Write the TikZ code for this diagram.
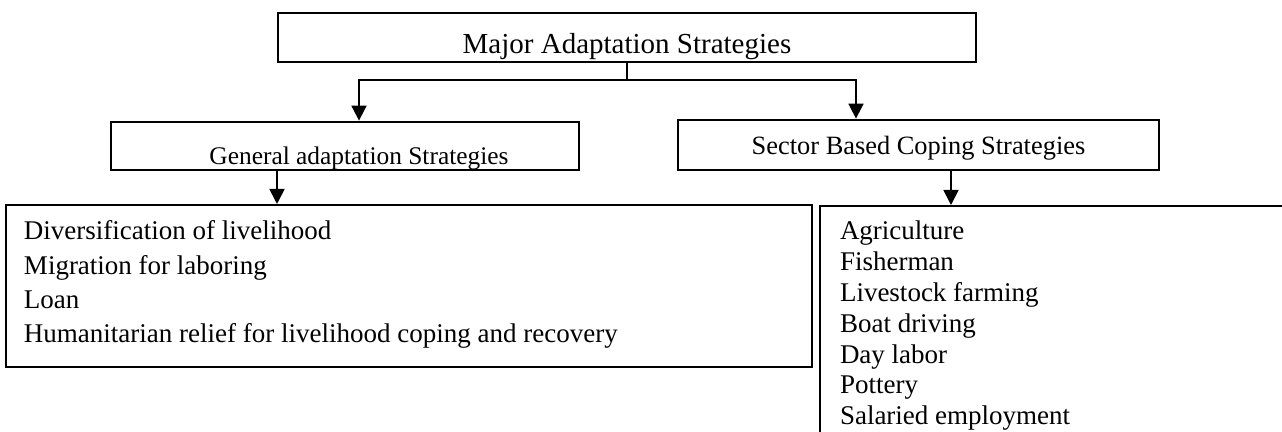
\documentclass[tikz,border=0pt]{standalone}
\usepackage{graphicx}
\usepackage{fontspec}
\setmainfont{Liberation Serif}
\usetikzlibrary{arrows.meta}
\begin{document}
\begin{tikzpicture}[x=0.5pt,y=-0.5pt,
  box/.style={draw,line width=1.4pt,inner sep=0pt,anchor=center},
  listbox/.style={draw,line width=1pt,inner sep=0pt,anchor=center},
  arr/.style={line width=0.9pt,-{Triangle[width=7.5pt,length=7.5pt]}},
  ln/.style={line width=0.9pt}]
\useasboundingbox (0,0) rectangle (1282,432);
\clip (0,0) rectangle (1282,432);
\node[box,minimum width=349pt,minimum height=24.5pt] (top) at (627,37.5)
  {\fontsize{14.5}{17}\selectfont\raisebox{-8.25pt}[0pt][0pt]{Major Adaptation Strategies}};
\node[box,minimum width=234pt,minimum height=24pt] (gen) at (345,146)
  {\fontsize{12.7}{16}\selectfont\raisebox{-9.5pt}[0pt][0pt]{\hspace{14pt}General adaptation Strategies}};
\node[box,minimum width=240.5pt,minimum height=25pt] (sec) at (918.5,145)
  {\fontsize{13.2}{16}\selectfont\raisebox{-5pt}[0pt][0pt]{Sector Based Coping Strategies}};
\node[listbox,minimum width=403pt,minimum height=81pt] (llist) at (409,286)
  {\raisebox{23pt}[0pt][0pt]{\parbox[t]{385pt}{\fontsize{13.5}{17.15}\selectfont\raggedright
   Diversification of livelihood\\
   Migration for laboring\\
   Loan\\
   Humanitarian relief for livelihood coping and recovery}}};
\node[listbox,minimum width=240pt,minimum height=132pt] (rlist) at (1060,338)
  {\raisebox{49pt}[0pt][0pt]{\parbox[t]{220pt}{\fontsize{13.5}{15.4}\selectfont\raggedright
   Agriculture\\
   Fisherman\\
   Livestock farming\\
   Boat driving\\
   Day labor\\
   Pottery\\
   Salaried employment}}};
\coordinate (j) at (627,80);
\coordinate (jL) at (359,80);
\coordinate (jR) at (856,80);
\coordinate (gL) at (277,0);
\coordinate (sR) at (951,0);
\draw[ln] (top.south) -- (j);
\draw[arr] (j) -| (jL |- gen.north);
\draw[arr] (j) -| (jR |- sec.north);
\draw[arr] (gL |- gen.south) -- (gL |- llist.north);
\draw[arr] (sR |- sec.south) -- (sR |- rlist.north);
\end{tikzpicture}
\end{document}
